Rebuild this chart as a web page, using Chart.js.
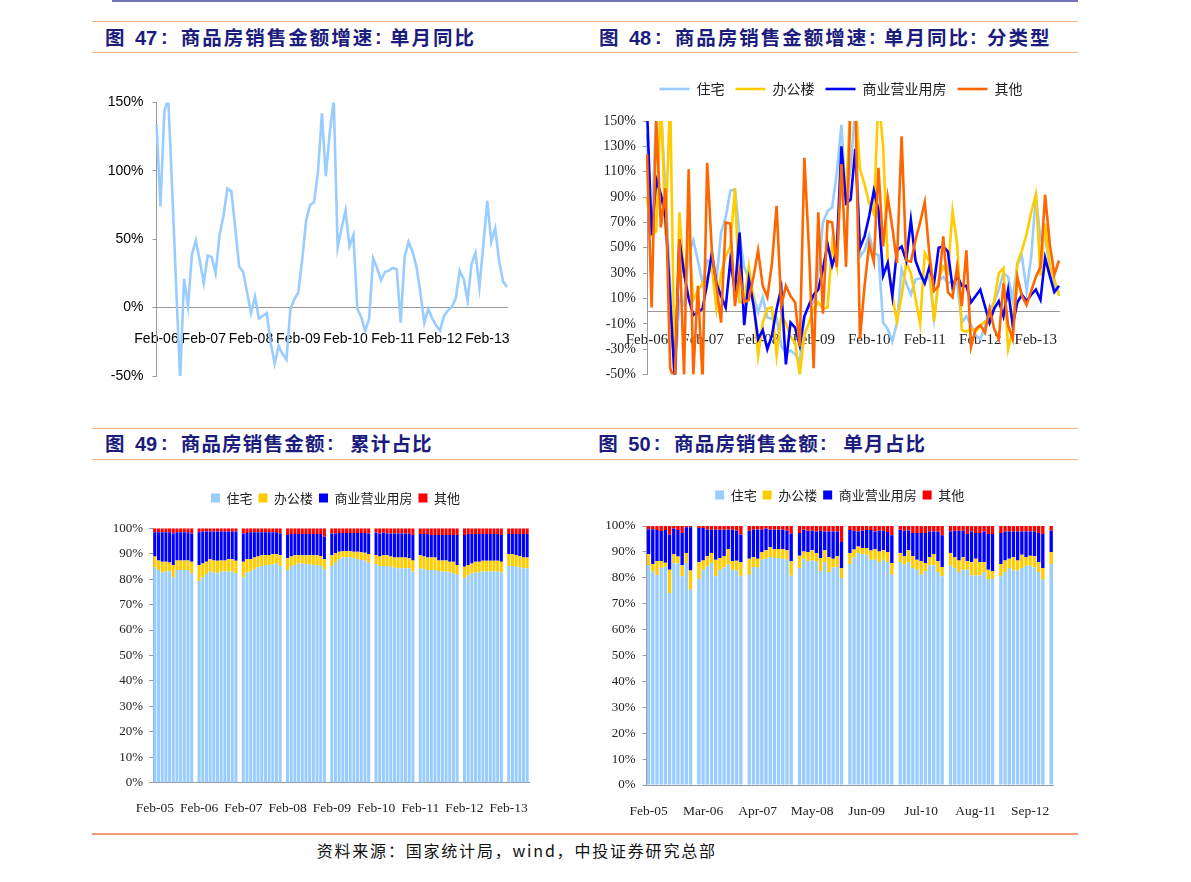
<!DOCTYPE html>
<html>
<head>
<meta charset="utf-8">
<script src="https://cdn.jsdelivr.net/npm/chart.js@4.4.1/dist/chart.umd.min.js"></script>
<style>
  html, body { margin: 0; padding: 0; background: #ffffff; }
  body { width: 1191px; height: 882px; position: relative; overflow: hidden; }
  .ln { position: absolute; }
  .t { position: absolute; white-space: nowrap; color: #1c1c7e; font-family: "Noto Sans CJK SC", sans-serif; font-weight: bold; font-size: 19.5px; line-height: 20px; letter-spacing: 2.0px; }
  .t2 { letter-spacing: 1.2px; }
  .n { position: absolute; white-space: nowrap; color: #1c1c7e; font-family: "Liberation Sans", Arial, sans-serif; font-weight: bold; font-size: 20px; line-height: 20px; }
  .src { position: absolute; white-space: nowrap; color: #111; font-family: "Noto Sans CJK SC", sans-serif; font-size: 16px; line-height: 16px; letter-spacing: 1.8px; }
  canvas { position: absolute; }
</style>
</head>
<body>
<!-- rules -->
<div class="ln" style="left:112px;top:0px;width:966px;height:2px;background:#7474bb"></div>
<div class="ln" style="left:92px;top:21px;width:986px;height:1px;background:#f6b48a"></div>
<div class="ln" style="left:92px;top:52px;width:986px;height:1px;background:#f6b48a"></div>
<div class="ln" style="left:92px;top:428px;width:986px;height:1px;background:#f6b48a"></div>
<div class="ln" style="left:92px;top:459px;width:986px;height:1px;background:#f6b48a"></div>
<div class="ln" style="left:92px;top:833px;width:986px;height:2px;background:#f49a7c"></div>

<!-- titles row 1 -->
<span class="t" style="left:105px;top:27px">图</span>
<span class="n" style="left:135px;top:28px">47</span>
<span class="n" style="left:161px;top:27px">:</span>
<span class="t" style="left:180.7px;top:27px">商品房销售金额增速</span>
<span class="n" style="left:375px;top:27px">:</span>
<span class="t" style="left:390px;top:27px">单月同比</span>

<span class="t" style="left:599px;top:27px">图</span>
<span class="n" style="left:629px;top:28px">48</span>
<span class="n" style="left:655px;top:27px">:</span>
<span class="t" style="left:674.7px;top:27px">商品房销售金额增速</span>
<span class="n" style="left:869px;top:27px">:</span>
<span class="t" style="left:884px;top:27px">单月同比</span>
<span class="n" style="left:970px;top:27px">:</span>
<span class="t" style="left:987px;top:27px">分类型</span>

<!-- titles row 2 -->
<span class="t t2" style="left:105px;top:433px">图</span>
<span class="n" style="left:135px;top:434px">49</span>
<span class="n" style="left:161px;top:433px">:</span>
<span class="t t2" style="left:180.7px;top:433px">商品房销售金额</span>
<span class="n" style="left:327px;top:433px">:</span>
<span class="t t2" style="left:350px;top:433px">累计占比</span>

<span class="t t2" style="left:598.3px;top:433px">图</span>
<span class="n" style="left:628.3px;top:434px">50</span>
<span class="n" style="left:653.7px;top:433px">:</span>
<span class="t t2" style="left:674px;top:433px">商品房销售金额</span>
<span class="n" style="left:820px;top:433px">:</span>
<span class="t t2" style="left:843.3px;top:433px">单月占比</span>

<span class="src" style="left:316.7px;top:842px">资料来源：国家统计局，wind，中投证券研究总部</span>

<canvas id="c47" width="425" height="310" style="left:95px;top:85px"></canvas>
<canvas id="c48" width="475" height="330" style="left:595px;top:60px"></canvas>
<canvas id="c49" width="440" height="340" style="left:95px;top:480px"></canvas>
<canvas id="c50" width="470" height="345" style="left:590px;top:478px"></canvas>

<script>
// ---------------- DATA ----------------
const MONTHS = ['Jan','Feb','Mar','Apr','May','Jun','Jul','Aug','Sep','Oct','Nov','Dec'];

// Fig 47 / 48: monthly YoY growth, Feb-06 .. Jul-13 (%)
const growthStart = { year: 2006, month: 1, count: 90 };
const growthXTicks = ['Feb-06','Feb-07','Feb-08','Feb-09','Feb-10','Feb-11','Feb-12','Feb-13'];
const growthYTicks47 = [-50, 0, 50, 100, 150];
const growthYTicks48 = [-50, -30, -10, 10, 30, 50, 70, 90, 110, 130, 150];

const c47Total = [134,74,144,152,85,15,-52,21,1,39,
  49,34,18,38,37,25,53,67,87,85,
  58,30,26,11,-4,8,-8,-6,-4,-26,
  -41,-28,-34,-38,-1,6,11,35,64,75,
  77,99,142,96,128,152,44,58,71,45,
  53,-1,-7,-17,-8,36,29,20,26,27,
  29,28,-11,37,48,41,30,11,-11,-1,
  -8,-13,-17,-6,-2,0.5,7,27,21,5,
  32,40,15,46,78,48,58,34,19,15];

const c48Res = [140,60,160,160,95,20,-55,10,5,45,
  56,40,22,40,38,25,62,74,95,96,
  60,35,25,12,-1,11,-5,-6,-5,-27,
  -33,-31,-34,-40,-4,4,7,30,70,79,
  82,109,147,86,114,160,43,48,60,46,
  44,-9,-14,-24,-9,33,22,13,25,26,
  25,27,-6,24,27,22,24,22,-9,-4,
  -11,-19,-22,-12,2,7,17,30,27,9,
  37,43,16,43,92,56,58,35,20,15];
const c48Off = [90,60,63,170,60,170,-55,78,26,60,
  9,16,22,27,35,2,30,43,51,97,
  7,7,35,10,-35,-9,2,3,-35,-4,
  -9,-20,-25,-50,-19,-9,2,7,2,3,
  53,35,120,90,170,170,112,100,85,77,
  170,130,40,12,-8,12,38,30,10,-10,
  46,39,-8,25,35,30,79,53,-15,-16,
  -14,-16,-12,-8,-10,8,30,34,-30,-15,
  38,48,61,78,92,28,69,35,25,12];
const c48Com = [160,60,104,92,74,10,-55,56,30,10,
  -3,-1,2,22,46,22,12,3,40,16,
  62,-11,25,5,-22,-15,-30,-19,2,18,
  -42,-9,-13,-27,-4,5,13,17,33,53,
  36,48,130,85,88,128,50,59,75,95,
  80,28,38,12,48,51,40,72,40,30,
  22,35,22,50,51,47,19,28,20,20,
  7,12,17,4,-9,2,8,-4,17,-11,
  7,13,8,13,17,9,42,28,15,20];
const c48Oth = [124,3,152,66,97,-45,-55,57,-50,112,
  -50,20,-55,117,48,20,-9,70,69,4,
  31,7,9,27,48,20,11,38,83,4,
  20,12,7,-28,121,48,-45,78,-2,71,
  70,35,116,35,170,170,-22,20,53,39,
  113,51,90,66,38,138,40,39,56,70,
  86,45,16,20,59,15,11,35,4,48,
  -28,-14,-11,-17,2,-14,-22,22,-11,-22,
  27,12,5,16,27,35,92,53,29,40];

const seriesNames = ['住宅','办公楼','商业营业用房','其他'];

// Fig 49: cumulative share (%), Feb..Dec per year 2005-2012, Feb..Jul 2013 (January has no data)
const shareStart49 = { year: 2005, month: 1, count: 102 };
const share49XTicks = ['Feb-05','Feb-06','Feb-07','Feb-08','Feb-09','Feb-10','Feb-11','Feb-12','Feb-13'];
const c49Res = [
  [84.7,83.6,82.6,83.0,83.0,80.7,83.6,83.6,83.6,83.6,82.3],
  [79.3,80.7,82.0,83.0,82.6,82.3,83.0,83.0,83.0,83.0,82.3],
  [80.7,82.6,83.0,83.9,84.7,85.2,85.6,85.6,85.8,86.2,85.2],
  [83.6,85.2,85.6,86.2,86.2,86.0,85.8,85.6,85.6,85.3,83.9],
  [85.2,86.5,87.8,88.6,88.6,88.6,88.2,87.8,87.5,87.3,86.5],
  [86.0,85.2,85.2,85.2,84.9,84.5,84.3,84.3,84.3,84.3,83.0],
  [84.3,83.9,83.6,83.6,83.6,83.2,83.0,83.0,82.6,82.3,81.7],
  [80.6,81.5,82.3,82.6,82.6,83.0,83.0,83.0,83.0,83.0,82.6],
  [85.2,85.2,84.9,84.7,84.3,84.3]];
const c49Off = [
  [4.2,3.7,4.3,3.9,3.6,4.9,3.7,3.7,3.7,3.7,4.6],
  [6.3,5.5,4.9,4.8,4.7,4.9,4.3,4.3,4.8,4.8,4.9],
  [6.2,5.2,4.8,4.6,4.2,4.2,3.9,3.9,4.1,3.7,4.2],
  [4.6,3.7,3.8,3.2,3.2,3.4,3.6,3.8,3.8,3.8,3.9],
  [4.2,3.7,3.0,2.4,2.4,2.4,2.6,3.0,3.1,3.1,3.4],
  [3.5,3.7,4.2,4.2,4.0,4.0,4.2,4.2,4.2,3.9,4.3],
  [5.1,5.0,4.9,4.9,4.9,4.1,4.3,4.3,4.3,4.6,3.9],
  [4.3,4.1,3.9,4.3,4.3,4.2,4.2,4.2,4.2,4.2,4.3],
  [4.7,4.7,4.5,4.4,4.2,4.2]];
const c49Com = [
  [9.5,11.1,11.5,11.5,11.8,12.4,11.1,11.1,11.1,11.1,11.1],
  [12.8,12.5,11.8,10.9,11.4,11.5,11.4,11.4,10.9,10.9,11.5],
  [11.1,10.4,10.6,9.9,9.5,9.0,8.9,8.9,8.5,8.5,8.6],
  [9.2,8.9,8.4,8.4,8.4,8.4,8.4,8.4,8.4,8.7,8.9],
  [8.6,7.8,7.4,7.2,7.2,7.2,7.4,7.4,7.6,7.8,8.1],
  [8.8,9.1,8.9,8.6,9.1,9.5,9.5,9.5,9.5,9.8,10.1],
  [8.4,8.9,9.3,8.9,8.9,10.1,10.1,10.1,10.5,10.5,11.8],
  [12.5,12.2,11.6,10.9,10.9,10.6,10.6,10.6,10.6,10.6,10.5],
  [7.9,7.9,8.4,8.7,9.3,9.3]];
const c49Oth = [
  [1.6,1.6,1.6,1.6,1.6,2.0,1.6,1.6,1.6,1.6,2.0],
  [1.6,1.3,1.3,1.3,1.3,1.3,1.3,1.3,1.3,1.3,1.3],
  [2.0,1.8,1.6,1.6,1.6,1.6,1.6,1.6,1.6,1.6,2.0],
  [2.6,2.2,2.2,2.2,2.2,2.2,2.2,2.2,2.2,2.2,3.3],
  [2.0,2.0,1.8,1.8,1.8,1.8,1.8,1.8,1.8,1.8,2.0],
  [1.7,2.0,1.7,2.0,2.0,2.0,2.0,2.0,2.0,2.0,2.6],
  [2.2,2.2,2.2,2.6,2.6,2.6,2.6,2.6,2.6,2.6,2.6],
  [2.6,2.2,2.2,2.2,2.2,2.2,2.2,2.2,2.2,2.2,2.6],
  [2.2,2.2,2.2,2.2,2.2,2.2]];

// Fig 50: single-month share (%), Feb..Dec 2005-2012, Feb 2013
const shareStart50 = { year: 2005, month: 1, count: 97 };
const share50XTicks = ['Feb-05','Mar-06','Apr-07','May-08','Jun-09','Jul-10','Aug-11','Sep-12'];
const c50Res = [
  [84.9,82.4,81.1,83.9,84.3,74.1,85.6,85.6,80.6,85.7,75.4],
  [79.5,83.1,84.4,85.7,80.6,83.1,84.0,85.1,83.1,82.8,80.6],
  [81.2,84.2,84.2,87.0,87.4,88.0,87.6,87.6,87.4,87.0,80.8],
  [83.8,87.4,86.4,86.7,86.4,82.5,86.0,82.2,84.0,84.2,79.9],
  [85.3,87.9,89.6,89.2,88.9,87.0,87.0,86.0,87.0,86.0,81.2],
  [86.0,85.1,86.0,83.8,83.1,81.2,82.5,84.8,84.8,82.2,80.6],
  [84.7,83.8,82.2,83.1,83.1,80.9,80.9,80.9,82.2,79.5,79.5],
  [80.6,82.2,83.8,82.8,82.8,83.8,84.7,84.7,84.0,82.2,79.3],
  [85.3]];
const c50Off = [
  [4.2,2.9,5.4,2.6,1.5,9.0,3.5,2.6,4.2,3.9,7.4],
  [6.5,3.6,3.9,3.9,6.4,4.5,4.3,6.0,3.3,3.8,5.4],
  [6.2,3.8,3.2,3.0,3.2,3.8,3.4,3.5,3.7,3.6,5.6],
  [4.7,2.8,3.6,3.9,3.2,5.1,4.6,5.8,3.4,4.1,3.9],
  [4.3,3.0,2.5,2.3,2.6,3.5,4.1,4.2,3.6,4.0,4.5],
  [3.6,3.2,4.6,4.5,3.9,5.2,3.2,3.1,4.4,4.2,3.6],
  [4.9,4.1,4.5,4.8,3.3,5.1,6.5,5.1,3.8,3.6,3.0],
  [4.7,4.5,3.6,5.1,3.9,5.1,3.2,3.8,4.3,3.8,4.5],
  [4.7]];
const c50Com = [
  [9.6,13.4,12.0,11.6,12.7,13.6,9.9,10.3,12.5,9.9,16.7],
  [13.2,12.5,10.3,9.0,11.6,11.0,10.3,7.5,12.2,11.6,10.7],
  [10.8,10.6,11.2,8.6,8.4,6.8,7.6,7.5,7.5,7.6,10.6],
  [8.8,8.4,8.2,7.6,8.3,10.6,7.3,9.9,10.5,9.6,10.0],
  [8.9,7.3,5.8,6.7,7.0,8.0,6.8,8.0,7.6,7.7,10.7],
  [9.0,9.9,7.7,9.0,10.3,10.9,11.6,10.0,8.7,11.5,12.2],
  [8.3,10.3,11.5,10.3,10.5,11.9,9.9,11.3,11.9,13.8,14.4],
  [12.0,11.2,10.5,10.0,11.2,9.0,10.0,9.4,9.6,11.3,13.1],
  [8.2]];
const c50Oth = [
  [1.3,1.3,1.5,1.9,1.5,3.3,1.0,1.5,2.7,0.5,0.5],
  [0.8,0.8,1.4,1.4,1.4,1.4,1.4,1.4,1.4,1.8,3.3],
  [1.8,1.4,1.4,1.4,1.0,1.4,1.4,1.4,1.4,1.8,3.0],
  [2.7,1.4,1.8,1.8,2.1,1.8,2.1,2.1,2.1,2.1,6.2],
  [1.5,1.8,2.1,1.8,1.5,1.5,2.1,1.8,1.8,2.3,3.6],
  [1.4,1.8,1.7,2.7,2.7,2.7,2.7,2.1,2.1,2.1,3.6],
  [2.1,1.8,1.8,1.8,3.1,2.1,2.7,2.7,2.1,3.1,3.1],
  [2.7,2.1,2.1,2.1,2.1,2.1,2.1,2.1,2.1,2.7,3.1],
  [1.8]];

// ---------------- HELPERS ----------------
function monthLabels(spec) {
  const out = [];
  for (let k = 0; k < spec.count; k++) {
    const m = (spec.month + k) % 12;
    const y = spec.year + Math.floor((spec.month + k) / 12);
    out.push(MONTHS[m] + '-' + String(y % 100).padStart(2, '0'));
  }
  return out;
}
// groups are Feb..Dec blocks; January (no data) becomes an empty category
function withJanGaps(groups) {
  const out = [];
  groups.forEach((g, gi) => { if (gi > 0) out.push(null); g.forEach(v => out.push(v)); });
  return out;
}

const COL = { res: '#99ccff', off: '#ffcc00', com: '#0000ff', oth: '#ff6600', othBar: '#ff0000' };
const FONT_SANS = '"Liberation Sans", Arial, sans-serif';
const FONT_SERIF = '"Liberation Serif", "Times New Roman", serif';
const FONT_CJK = '"Noto Sans CJK SC", sans-serif';
const AXIS = '#9a9a9a';

Chart.defaults.color = '#000';
Chart.defaults.animation = false;

const nudge = {
  id: 'nudge',
  afterLayout(chart, args, opts) {
    const lg = chart.legend;
    if (!lg || !opts) return;
    const dx = opts.dx || 0, dy = opts.dy || 0;
    lg.left += dx; lg.right += dx; lg.top += dy; lg.bottom += dy;
  }
};

function tickFilter(list) {
  return function (value) {
    const l = this.getLabelForValue(value);
    return list.includes(l) ? l : '';
  };
}
function noSidePad(s) { s.paddingLeft = 0; s.paddingRight = 0; }

// ---------------- FIG 47 ----------------
const cat47 = monthLabels(growthStart);
new Chart(document.getElementById('c47'), {
  type: 'line',
  data: { labels: cat47, datasets: [{ data: c47Total, borderColor: COL.res, borderWidth: 2.6, pointRadius: 0, tension: 0, fill: false }] },
  options: {
    responsive: false, devicePixelRatio: 1, animation: false,
    layout: { padding: { left: 0, right: 13, top: 15.5, bottom: 19 } },
    plugins: { legend: { display: false }, tooltip: { enabled: false } },
    scales: {
      x: {
        type: 'category', position: { y: 0 }, offset: false,
        afterFit: noSidePad,
        grid: { display: false }, border: { display: true, color: AXIS, width: 1 },
        ticks: { autoSkip: false, maxRotation: 0, minRotation: 0, padding: 15, color: '#000',
                 font: { family: FONT_SANS, size: 14 }, callback: tickFilter(growthXTicks) }
      },
      y: {
        min: -50, max: 150,
        afterFit(s) { s.width = 61.5; },
        afterBuildTicks(axis) { axis.ticks = growthYTicks47.map(v => ({ value: v })); },
        ticks: { padding: 9, color: '#000', font: { family: FONT_SANS, size: 14 }, callback: v => v + '%' },
        grid: { drawOnChartArea: false, tickLength: 4, color: AXIS },
        border: { display: true, color: AXIS }
      }
    }
  }
});

// ---------------- FIG 48 ----------------
const cat48 = monthLabels(growthStart);
const lineDs = (label, data, color, order) => ({ label, data, borderColor: color, backgroundColor: color, borderWidth: 2.6, pointRadius: 0, tension: 0, fill: false, order });
new Chart(document.getElementById('c48'), {
  type: 'line',
  data: {
    labels: cat48,
    datasets: [
      lineDs(seriesNames[0], c48Res, COL.res, 4),
      lineDs(seriesNames[1], c48Off, COL.off, 3),
      lineDs(seriesNames[2], c48Com, COL.com, 2),
      lineDs(seriesNames[3], c48Oth, COL.oth, 1)
    ]
  },
  options: {
    responsive: false, devicePixelRatio: 1, animation: false,
    layout: { padding: { left: 0, right: 11, top: 26, bottom: 12 } },
    plugins: {
      tooltip: { enabled: false },
      legend: {
        display: true, position: 'top',
        labels: { usePointStyle: true, pointStyle: 'line', pointStyleWidth: 30, padding: 11, color: '#222',
                  font: { family: FONT_CJK, size: 14 }, sort: (a, b) => a.datasetIndex - b.datasetIndex }
      },
      nudge: { dx: 14, dy: -15 }
    },
    scales: {
      x: {
        type: 'category', position: { y: 0 }, offset: false,
        afterFit: noSidePad,
        grid: { display: false }, border: { display: true, color: AXIS, width: 1 },
        ticks: { autoSkip: false, maxRotation: 0, minRotation: 0, padding: 11.5, color: '#222',
                 font: { family: FONT_SERIF, size: 15 }, callback: tickFilter(growthXTicks) }
      },
      y: {
        min: -50, max: 150,
        afterFit(s) { s.width = 52; },
        afterBuildTicks(axis) { axis.ticks = growthYTicks48.map(v => ({ value: v })); },
        ticks: { padding: 7, color: '#222', font: { family: FONT_SERIF, size: 14 }, callback: v => v + '%' },
        grid: { drawOnChartArea: false, tickLength: 4, color: AXIS },
        border: { display: true, color: AXIS }
      }
    }
  },
  plugins: [nudge]
});

// ---------------- FIG 49 / 50 ----------------
function shareChart(id, labels, ticks, res, off, com, oth, cfg) {
  const barDs = (label, data, color) => ({ label, data, backgroundColor: color, borderWidth: 0,
    barPercentage: 1, categoryPercentage: cfg.catPct });
  return new Chart(document.getElementById(id), {
    type: 'bar',
    data: {
      labels,
      datasets: [
        barDs(seriesNames[0], withJanGaps(res), COL.res),
        barDs(seriesNames[1], withJanGaps(off), COL.off),
        barDs(seriesNames[2], withJanGaps(com), COL.com),
        barDs(seriesNames[3], withJanGaps(oth), COL.othBar)
      ]
    },
    options: {
      responsive: false, devicePixelRatio: 1, animation: false,
      layout: { padding: cfg.padding },
      plugins: {
        tooltip: { enabled: false },
        legend: {
          display: true, position: 'top',
          labels: { boxWidth: 9, boxHeight: 9, padding: 6, color: '#222', font: { family: FONT_CJK, size: 13 } }
        },
        nudge: cfg.nudge
      },
      scales: {
        x: {
          stacked: true, offset: true,
          afterFit(s) { s.height = 37; s.paddingLeft = 0; s.paddingRight = 0; },
          grid: { display: false }, border: { display: true, color: AXIS, width: 1 },
          ticks: { autoSkip: false, maxRotation: 0, minRotation: 0, padding: cfg.xPad, color: '#222',
                   font: { family: FONT_SERIF, size: 13.5 }, callback: tickFilter(ticks) }
        },
        y: {
          stacked: true, min: 0, max: 100,
          afterFit(s) { s.width = cfg.yW; },
          ticks: { stepSize: 10, padding: cfg.yPad, color: '#222', font: { family: FONT_SERIF, size: 13 }, callback: v => v + '%' },
          grid: { drawOnChartArea: false, tickLength: 4, color: AXIS },
          border: { display: true, color: AXIS }
        }
      }
    },
    plugins: [nudge]
  });
}

shareChart('c49', monthLabels(shareStart49), share49XTicks, c49Res, c49Off, c49Com, c49Oth, {
  catPct: 0.82, yW: 58, yPad: 6, xPad: 10,
  padding: { left: 0, right: 6, top: 19.3, bottom: 0.3 },
  nudge: { dx: 23.5, dy: -13.8 }
});
shareChart('c50', monthLabels(shareStart50), share50XTicks, c50Res, c50Off, c50Com, c50Oth, {
  catPct: 0.8, yW: 56.5, yPad: 7, xPad: 10,
  padding: { left: 0, right: 6.7, top: 19, bottom: 1 },
  nudge: { dx: 18, dy: -14.5 }
});
</script>
</body>
</html>
